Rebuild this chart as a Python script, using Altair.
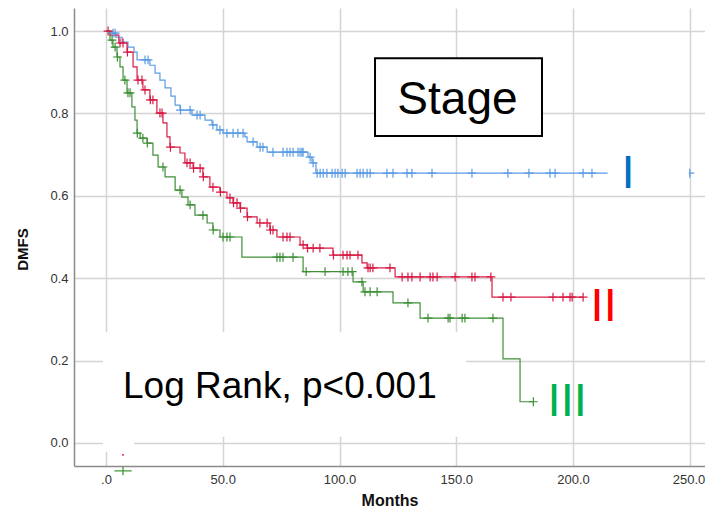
import altair as alt
import pandas as pd
import numpy as np

# ---------------- data ----------------
stages = ["I", "II", "III"]
line_colors = ["#5b9be3", "#d81b45", "#3f8f37"]

# Stage I (blue): event times (months) and survival after each event
blue_t = [2.6, 4.3, 6.9, 9.4, 12.0, 13.3, 18.8, 21.0, 23.1, 25.3, 27.8, 29.6, 31.7, 36.8,
          42.4, 45.4, 47.5, 50.1, 59.5, 60.4, 64.7, 69.0, 86.5, 88.2, 89.9]
blue_s = [0.995, 0.985, 0.973, 0.961, 0.949, 0.930, 0.917, 0.898, 0.881, 0.862, 0.842, 0.820,
          0.808, 0.796, 0.784, 0.772, 0.760, 0.752, 0.743, 0.731, 0.718, 0.706, 0.694, 0.680, 0.655]
blue_end = 250.0
blue_cens = [3.0, 3.9, 16.7, 18.0, 31.9, 36.0, 39.0, 40.3, 45.8, 48.8, 51.8, 54.4, 56.5, 58.7,
             63.0, 66.0, 67.2, 71.5, 75.8, 77.5, 78.8, 80.1, 82.2, 83.1, 83.9, 84.4, 87.4, 88.7,
             90.4, 91.7, 93.0, 94.6, 96.8, 98.1, 99.3, 101.1, 102.4, 107.5, 108.8, 110.1, 111.8,
             113.1, 120.3, 122.9, 128.9, 131.0, 139.6, 156.7, 172.1, 181.1, 190.1, 192.3, 204.3,
             208.1, 250.0]

# Stage II (red)
red_t = [1.7, 5.5, 9.0, 11.6, 13.3, 15.8, 18.8, 21.8, 24.4, 26.1, 27.4, 31.7, 33.8, 37.3, 41.5,
         44.5, 48.8, 51.8, 54.4, 57.4, 60.4, 64.7, 70.2, 73.2, 83.1, 86.1, 97.2, 109.6, 111.8,
         123.8, 165.3]
red_s = [0.990, 0.971, 0.949, 0.913, 0.881, 0.857, 0.833, 0.801, 0.777, 0.743, 0.718, 0.704,
         0.680, 0.667, 0.646, 0.621, 0.609, 0.595, 0.583, 0.570, 0.549, 0.534, 0.517, 0.500,
         0.481, 0.473, 0.456, 0.437, 0.425, 0.403, 0.354]
red_end = 204.3
red_cens = [0.9, 6.0, 7.3, 9.2, 13.7, 15.4, 16.7, 19.0, 20.1, 23.1, 24.0, 27.6, 34.7, 36.0, 37.5,
            40.3, 41.7, 45.8, 49.0, 53.1, 54.6, 56.1, 57.6, 60.6, 65.9, 69.0, 70.4, 71.5, 75.8,
            77.5, 78.8, 84.4, 86.3, 88.7, 91.6, 97.4, 101.5, 103.2, 104.5, 107.9, 112.2, 113.1,
            114.3, 121.6, 126.8, 129.3, 131.0, 134.5, 138.8, 140.0, 141.8, 149.5, 156.7, 158.0,
            164.8, 170.0, 173.4, 191.4, 195.7, 198.7, 199.6, 204.3]

# Stage III (green)
green_t = [1.7, 3.0, 4.7, 6.0, 7.3, 9.0, 11.1, 12.4, 13.3, 14.6, 17.6, 20.1, 22.3, 25.3, 29.6,
           32.5, 35.1, 38.1, 43.3, 45.8, 48.8, 58.2, 84.4, 105.8, 110.1, 122.9, 134.5, 170.0, 177.3]
green_s = [0.978, 0.961, 0.937, 0.913, 0.881, 0.850, 0.816, 0.784, 0.752, 0.740, 0.728, 0.699,
           0.670, 0.646, 0.614, 0.597, 0.578, 0.553, 0.534, 0.517, 0.500, 0.451, 0.416, 0.391,
           0.367, 0.340, 0.303, 0.204, 0.100]
green_end = 183.0
green_cens = [2.6, 3.9, 4.9, 8.1, 9.4, 10.3, 13.4, 15.8, 17.7, 24.4, 31.7, 36.0, 41.5, 45.9,
              50.1, 51.8, 53.1, 73.2, 74.5, 75.8, 80.1, 85.7, 93.8, 101.5, 103.6, 105.4, 109.6,
              110.9, 113.1, 116.1, 129.3, 137.9, 146.5, 147.3, 152.5, 153.7, 165.7, 183.0]

# stray marks below the plot and white masking patches seen in the picture
stray_month = [7.3]
stray_red_surv = [-0.029]
stray_green_surv = [-0.068]
mask_x = [-1.3, -1.3, 214.8]
mask_x2 = [154.2, 12.0, 249.6]
mask_y = [0.269, 0.015, 0.699]
mask_y2 = [0.015, -0.022, 0.648]

# annotation box and labels
box_x, box_x2, box_y, box_y2 = [115.2], [186.7], [0.934], [0.745]
stage_title = ["Stage"]
stage_title_pos = [(150.5, 0.799)]
logrank_text = ["Log Rank, p<0.001"]
logrank_pos = [(7.3, 0.109)]
roman_pos = [(220.7, 0.619), (207.5, 0.296), (189.1, 0.0655)]
roman_colors = ["#0070c0", "#ff0000", "#00b050"]

x_ticks = [0, 50, 100, 150, 200, 250]
y_ticks = [0.0, 0.2, 0.4, 0.6, 0.8, 1.0]

# ---------------- tables ----------------
curves = [(blue_t, blue_s, blue_end, blue_cens),
          (red_t, red_s, red_end, red_cens),
          (green_t, green_s, green_end, green_cens)]

line_rows, cens_rows = [], []
for stage, (t, s, end, cens) in zip(stages, curves):
    line_rows.append({"month": 0.0, "surv": 1.0, "stage": stage})
    for ti, si in zip(t, s):
        line_rows.append({"month": ti, "surv": si, "stage": stage})
    line_rows.append({"month": end, "surv": s[-1], "stage": stage})
    ta = np.array(t)
    for c in cens:
        idx = np.searchsorted(ta, c, side="right") - 1
        val = 1.0 if idx < 0 else s[idx]
        cens_rows.append({"month": c, "surv": val, "stage": stage})

lines_df = pd.DataFrame(line_rows)
cens_df = pd.DataFrame(cens_rows)
mask_df = pd.DataFrame({"month": mask_x, "month2": mask_x2, "surv": mask_y, "surv2": mask_y2})
box_df = pd.DataFrame({"month": box_x, "month2": box_x2, "surv": box_y, "surv2": box_y2})
stage_df = pd.DataFrame({"month": [p[0] for p in stage_title_pos],
                         "surv": [p[1] for p in stage_title_pos], "label": stage_title})
logrank_df = pd.DataFrame({"month": [p[0] for p in logrank_pos],
                           "surv": [p[1] for p in logrank_pos], "label": logrank_text})
roman_df = pd.DataFrame({"month": [p[0] for p in roman_pos],
                         "surv": [p[1] for p in roman_pos], "label": stages, "col": roman_colors})
stray_red_df = pd.DataFrame({"month": stray_month, "surv": stray_red_surv})
stray_green_df = pd.DataFrame({"month": stray_month, "surv": stray_green_surv})

# ---------------- encodings ----------------
FONT = "Liberation Sans"
GRID = "#d4d4d4"

x_scale = alt.Scale(domain=[-13.7, 256.5], nice=False, zero=False)
y_scale = alt.Scale(domain=[-0.056, 1.056], nice=False, zero=False)

x_axis = alt.Axis(values=x_ticks,
                  labelExpr="datum.value == 0 ? '.0' : format(datum.value, '.1f')",
                  title="Months", ticks=False, grid=True, gridColor=GRID, gridWidth=1.5,
                  domainColor="#8a8a8a", domainWidth=1.5, labelFont=FONT, labelFontSize=13,
                  labelColor="#333333", labelPadding=7, labelFlush=16, labelFlushOffset=15,
                  titleFont=FONT, titleFontSize=16,
                  titleFontWeight="bold", titleColor="#111111", titleY=39,
                  titleBaseline="alphabetic")
y_axis = alt.Axis(values=y_ticks, format=".1f", title="DMFS", ticks=False, grid=True,
                  gridColor=GRID, gridWidth=1.5, domainColor="#8a8a8a", domainWidth=1.5,
                  labelFont=FONT, labelFontSize=13, labelColor="#333333", labelPadding=6,
                  titleFont=FONT, titleFontSize=15, titleFontWeight="bold",
                  titleColor="#111111", titleX=-52, titleY=241, titleAngle=270,
                  titleAlign="center", titleBaseline="middle")

X = alt.X("month:Q", scale=x_scale, axis=x_axis)
Y = alt.Y("surv:Q", scale=y_scale, axis=y_axis)
color = alt.Color("stage:N", scale=alt.Scale(domain=stages, range=line_colors), legend=None)

plus = "M-1,0L1,0M0,-1L0,1"

lines = alt.Chart(lines_df).mark_line(interpolate="step-after", strokeWidth=1.2).encode(
    x=X, y=Y, color=color, detail="stage:N")
cens = alt.Chart(cens_df).mark_point(shape=plus, size=80, strokeWidth=1.2, filled=False,
                                     opacity=1).encode(x=X, y=Y, color=color)
masks = alt.Chart(mask_df).mark_rect(fill="white").encode(
    x=X, x2="month2:Q", y=Y, y2="surv2:Q")
box = alt.Chart(box_df).mark_rect(fill="white", stroke="black", strokeWidth=2).encode(
    x=X, x2="month2:Q", y=Y, y2="surv2:Q")
stage_txt = alt.Chart(stage_df).mark_text(font=FONT, fontSize=46, align="center",
                                          baseline="alphabetic", color="black").encode(
    x=X, y=Y, text="label:N")
logrank_txt = alt.Chart(logrank_df).mark_text(font=FONT, fontSize=37, align="left",
                                              baseline="alphabetic", color="black").encode(
    x=X, y=Y, text="label:N")
roman_txt = alt.Chart(roman_df).mark_text(font=FONT, fontSize=47, align="left",
                                          baseline="alphabetic").encode(
    x=X, y=Y, text="label:N", color=alt.Color("col:N", scale=None))
stray_red = alt.Chart(stray_red_df).mark_point(shape="square", size=3, filled=True,
                                               color="#e0305a", opacity=1).encode(x=X, y=Y)
stray_green = alt.Chart(stray_green_df).mark_point(shape="M-1,0L1,0M0,-0.5L0,0.5", size=300,
                                                   strokeWidth=1.3, filled=False,
                                                   color="#3f9a3a", opacity=1).encode(x=X, y=Y)

chart = alt.layer(lines, cens, masks, box, stage_txt, logrank_txt, roman_txt,
                  stray_red, stray_green).properties(
    width=631, height=458,
    autosize=alt.AutoSizeParams(type="none"),
    padding={"left": 66, "top": 0, "right": 0, "bottom": 45},
    background="white",
).configure_view(stroke=None)

chart.save("out.html", embed_options={"renderer": "svg", "actions": False})
